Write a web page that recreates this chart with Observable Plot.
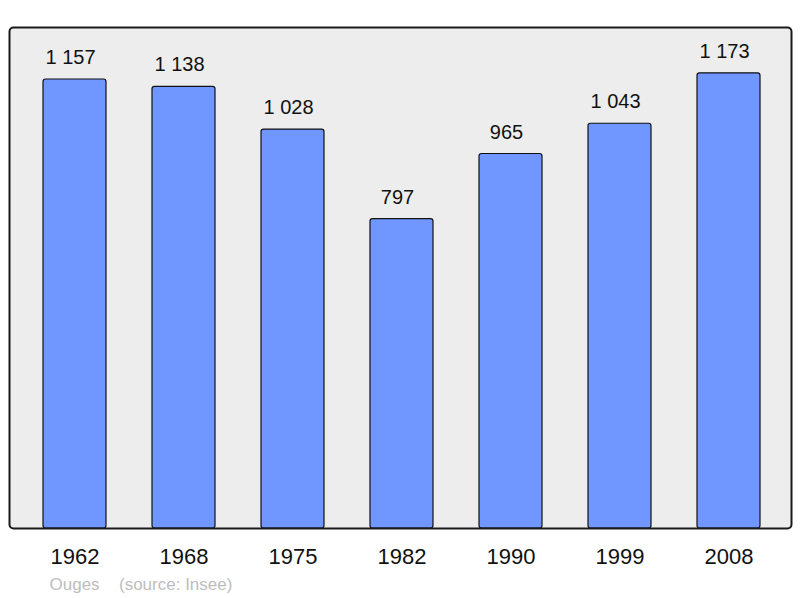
<!DOCTYPE html>
<html>
<head>
<meta charset="utf-8">
<script src="https://cdn.jsdelivr.net/npm/d3@7"></script>
<script src="https://cdn.jsdelivr.net/npm/@observablehq/plot@0.6"></script>
<style>
  html, body { margin: 0; padding: 0; background: #fff; }
  #chart svg { display: block; }
</style>
</head>
<body>
<div id="chart"></div>
<script>
const years = ["1962", "1968", "1975", "1982", "1990", "1999", "2008"];
const population = [1157, 1138, 1028, 797, 965, 1043, 1173];
const commune = "Ouges";
const source = "(source: Insee)";

const data = years.map((year, i) => ({year, pop: population[i]}));
const fmt = d3.formatLocale({decimal: ",", thousands: " ", grouping: [3], currency: ["", ""]}).format(",d");
const font = "Liberation Sans, Arial, sans-serif";

const chart = Plot.plot({
  width: 800,
  height: 598,
  marginTop: 27,
  marginBottom: 70,
  marginLeft: 9,
  marginRight: 9,
  style: {fontFamily: font, background: "#fff"},
  x: {domain: years, range: [9, 794], paddingInner: 0.4247, paddingOuter: 0.2968},
  y: {domain: [0, 1291], axis: null},
  marks: [
    Plot.frame({fill: "#ededed", stroke: "none", rx: 4}),
    Plot.barY(data, {x: "year", y: "pop", fill: "#7097ff", stroke: "#111", strokeWidth: 1.2, rx: 2.5}),
    Plot.frame({fill: "none", stroke: "#1a1a1a", strokeWidth: 2, rx: 4}),
    Plot.text(data, {x: "year", y: "pop", text: d => fmt(d.pop), dx: -4.5, dy: -15.5, lineAnchor: "bottom", fontSize: 20, fill: "#111"}),
    Plot.axisX({tickSize: 0, tickPadding: 20, fontSize: 22, label: null, color: "#111"}),
    Plot.text([commune], {frameAnchor: "bottom-left", dx: 40, dy: 61, lineAnchor: "bottom", textAnchor: "start", fontSize: 17, fill: "#bdbdbd"}),
    Plot.text([source], {frameAnchor: "bottom-left", dx: 109.5, dy: 61, lineAnchor: "bottom", textAnchor: "start", fontSize: 17, fill: "#bdbdbd"})
  ]
});
document.getElementById("chart").appendChild(chart);
</script>
</body>
</html>
